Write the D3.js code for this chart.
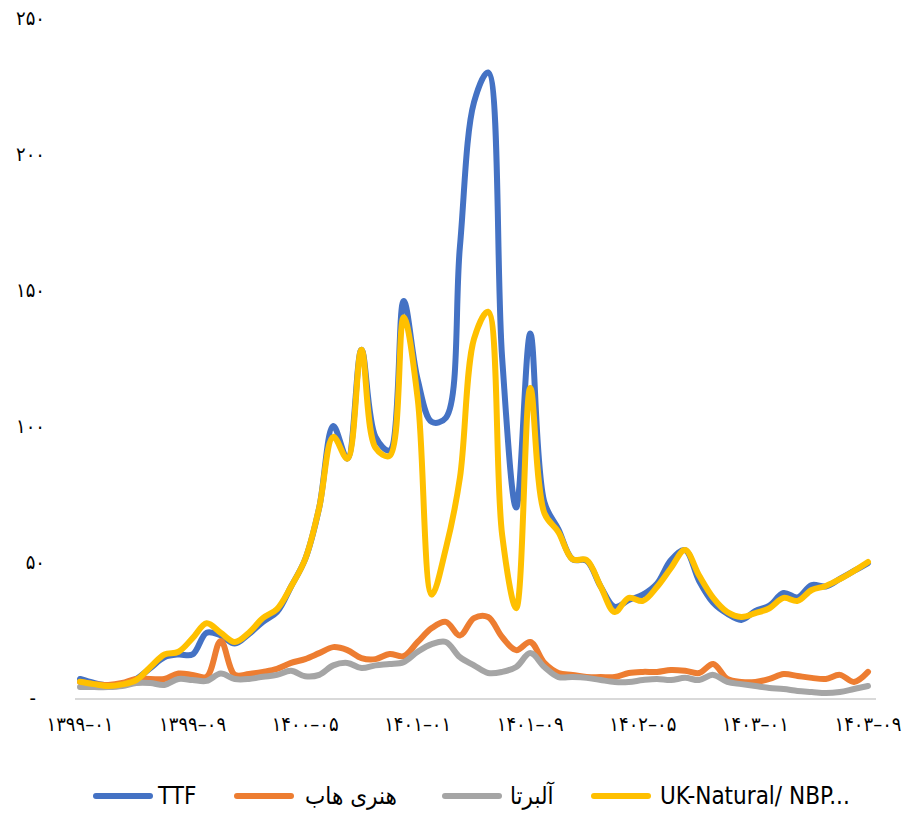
<!DOCTYPE html>
<html>
<head>
<meta charset="utf-8">
<script src="https://cdn.jsdelivr.net/npm/d3@7"></script>
<style>
  body { margin: 0; background: #fff; }
  svg text { font-family: "DejaVu Sans Condensed", "DejaVu Sans", sans-serif; }
</style>
</head>
<body>
<svg id="chart" width="905" height="834"></svg>
<script>
// months 1399-01 .. 1403-09
var months = [];
for (var y = 1399; y <= 1403; y++) {
    for (var m = 1; m <= 12; m++) {
        if (y == 1403 && m > 9) break;
        months.push(y + "-" + (m < 10 ? "0" + m : m));
    }
}

var xTicks = ["1399-01", "1399-09", "1400-05", "1401-01", "1401-09", "1402-05", "1403-01", "1403-09"];
var yTicks = [0, 50, 100, 150, 200, 250];

var ttf = [7, 5.5, 4.6, 5, 7, 11, 15, 16, 16, 24, 23, 20, 23.5, 28, 31.6, 41, 51, 70, 100, 88,
    128, 96, 91, 146, 117, 101.5, 103, 166, 219, 230, 125, 70, 134, 72, 62, 51, 50.5, 41, 33.5, 36,
    38, 42, 50.7, 54.4, 43, 35, 31, 28.7, 32, 34, 38.6, 37, 41.5, 41, 43.8, 46.7, 49.6];
var henry = [5.9, 5.1, 4.8, 5.5, 7, 7, 7, 9, 8.5, 7.8, 21, 8.5, 8.8, 9.6, 10.7, 12.9, 14.3, 16.5, 18.7, 17.6,
    14.7, 14.3, 16.2, 15.4, 20.6, 25.7, 28, 23, 29.4, 29.8, 22.4, 17.6, 20.6, 12.9, 9.2, 8.5, 7.7, 7.7, 7.7, 9.2,
    9.6, 9.6, 10.3, 10, 9.2, 12.5, 7, 5.9, 5.9, 7, 8.8, 8.1, 7.4, 7, 8.5, 5.9, 9.6];
var alberta = [4, 4, 4, 4.4, 5.5, 5.5, 4.8, 7, 6.6, 6.3, 9, 7, 7, 7.8, 8.5, 10, 8, 8.5, 12, 12.9,
    11, 12, 12.5, 13.2, 17, 19.8, 20.6, 15, 12, 9.2, 9.6, 11.4, 16.5, 11.4, 7.7, 7.7, 7.4, 6.6, 5.9, 5.9,
    6.6, 7, 6.6, 7.4, 6.6, 8.5, 5.9, 5.1, 4.4, 3.7, 3.3, 2.6, 2.2, 1.8, 2.2, 3.3, 4.4];
var nbp = [6, 5.1, 4.4, 5, 6.6, 11.4, 16, 17, 22, 27.5, 24, 20.6, 24, 29.4, 32.7, 41, 51, 70, 96, 88,
    128, 92, 89, 140, 110, 38, 55, 81, 132, 142, 60, 33, 114, 68, 61, 51, 50.7, 41, 31.6, 36.8,
    35.7, 40.8, 47.8, 54.4, 45, 36.8, 31.6, 29.8, 31.2, 33, 36.8, 35.7, 39.7, 41.2, 43.7, 46.7, 50];

var seriesNames = ["TTF", "هنری هاب", "آلبرتا", "UK-Natural/ NBP..."];
var seriesColors = ["#4472C4", "#ED7D31", "#A5A5A5", "#FFC000"];
var seriesData = [ttf, henry, alberta, nbp];

var fa = "۰۱۲۳۴۵۶۷۸۹";
function toFa(s) {
    return String(s).replace(/[0-9]/g, d => fa[+d]).replace("-", "–");
}

var svg = d3.select("svg#chart");

var x = d3.scalePoint()
    .domain(months)
    .range([80, 868]);

var yScale = d3.scaleLinear()
    .domain([0, 250])
    .range([698, 18]);

// axis line
svg.append("line")
    .attr("x1", 75).attr("x2", 876)
    .attr("y1", yScale(0) + 1).attr("y2", yScale(0) + 1)
    .attr("stroke", "#D9D9D9")
    .attr("stroke-width", 2);

// y labels (zero shows as a dash, accounting style)
svg.selectAll("text.ylab")
    .data(yTicks)
    .enter()
    .append("text")
    .attr("class", "ylab")
    .attr("x", d => d == 0 ? 36 : 45)
    .attr("y", d => yScale(d))
    .attr("dy", "0.35em")
    .attr("text-anchor", "end")
    .style("font-size", "20px")
    .style("fill", "#000")
    .text(d => d == 0 ? "-" : toFa(d));

// x labels
svg.selectAll("text.xlab")
    .data(xTicks)
    .enter()
    .append("text")
    .attr("class", "xlab")
    .attr("x", d => x(d))
    .attr("y", 724)
    .attr("dy", "0.35em")
    .attr("text-anchor", "middle")
    .attr("direction", "ltr")
    .style("font-size", "20px")
    .style("fill", "#000")
    .text(d => toFa(d));

var line = d3.line()
    .x((d, i) => x(months[i]))
    .y(d => yScale(d))
    .curve(d3.curveCatmullRom.alpha(0.5));

svg.selectAll("path.series")
    .data(seriesData)
    .enter()
    .append("path")
    .attr("class", "series")
    .attr("d", line)
    .attr("fill", "none")
    .attr("stroke", (d, i) => seriesColors[i])
    .attr("stroke-width", 6)
    .attr("stroke-linejoin", "round")
    .attr("stroke-linecap", "round");

// legend
var legendX = [96, 237, 445, 594];
var legendTextX = [62, 68, 65, 66];
var leg = svg.selectAll("g.leg")
    .data(seriesNames)
    .enter()
    .append("g")
    .attr("class", "leg")
    .attr("transform", (d, i) => "translate(" + legendX[i] + ",796)");

leg.append("line")
    .attr("x1", 0).attr("x2", 54)
    .attr("stroke", (d, i) => seriesColors[i])
    .attr("stroke-width", 6)
    .attr("stroke-linecap", "round");

leg.append("text")
    .attr("x", (d, i) => legendTextX[i])
    .attr("dy", "0.35em")
    .style("font-size", "24px")
    .style("fill", "#000")
    .text(d => d);
</script>
</body>
</html>
